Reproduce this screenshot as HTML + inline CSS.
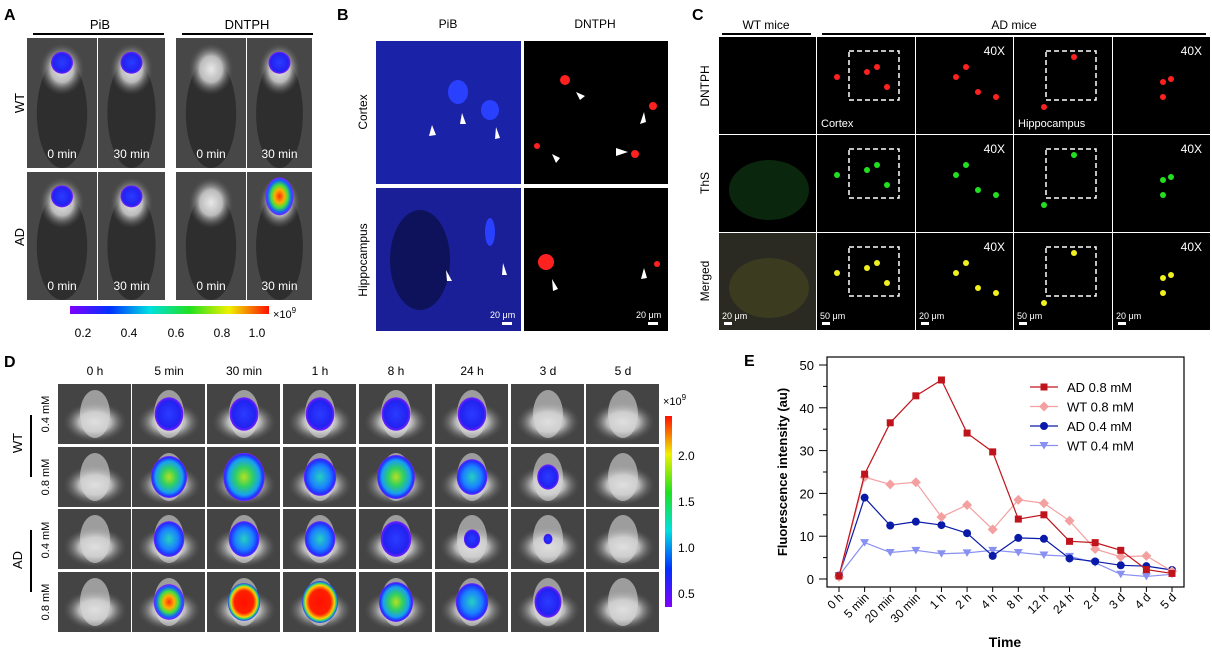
<!DOCTYPE html>
<html><head><meta charset="utf-8">
<style>
html,body{margin:0;padding:0;background:#fff;}
svg{display:block;font-family:"Liberation Sans",Arial,sans-serif;}
</style></head>
<body>
<svg id="fig" width="1212" height="659" viewBox="0 0 1212 659" xmlns="http://www.w3.org/2000/svg">
<defs>
  <radialGradient id="gMouse"><stop offset="0" stop-color="#e8e8e8"/><stop offset="0.5" stop-color="#bbb"/><stop offset="1" stop-color="#555" stop-opacity="0"/></radialGradient>
  <radialGradient id="h1"><stop offset="0" stop-color="#2a3cff"/><stop offset="0.8" stop-color="#2222f0"/><stop offset="1" stop-color="#7a1cff"/></radialGradient>
  <radialGradient id="h2"><stop offset="0" stop-color="#25d0c0"/><stop offset="0.6" stop-color="#1a80ff"/><stop offset="0.9" stop-color="#2030ff"/><stop offset="1" stop-color="#8020ff"/></radialGradient>
  <radialGradient id="h3"><stop offset="0" stop-color="#b8e020"/><stop offset="0.4" stop-color="#30d060"/><stop offset="0.75" stop-color="#18a0f0"/><stop offset="0.92" stop-color="#2030ff"/><stop offset="1" stop-color="#8020ff"/></radialGradient>
  <radialGradient id="h4"><stop offset="0" stop-color="#ff3010"/><stop offset="0.35" stop-color="#ffb000"/><stop offset="0.6" stop-color="#40e040"/><stop offset="0.85" stop-color="#1060ff"/><stop offset="1" stop-color="#8020ff"/></radialGradient>
  <radialGradient id="h5"><stop offset="0" stop-color="#ff1000"/><stop offset="0.6" stop-color="#ff2000"/><stop offset="0.8" stop-color="#ffd000"/><stop offset="0.9" stop-color="#20d080"/><stop offset="1" stop-color="#3030ff"/></radialGradient>
  <linearGradient id="cbA" x1="0" x2="1"><stop offset="0" stop-color="#8000ff"/><stop offset="0.2" stop-color="#0030ff"/><stop offset="0.4" stop-color="#00e0e0"/><stop offset="0.6" stop-color="#20e020"/><stop offset="0.8" stop-color="#f0f000"/><stop offset="1" stop-color="#ff1000"/></linearGradient>
  <linearGradient id="cbD" x1="0" y1="1" x2="0" y2="0"><stop offset="0" stop-color="#8000ff"/><stop offset="0.2" stop-color="#0030ff"/><stop offset="0.4" stop-color="#00e0e0"/><stop offset="0.6" stop-color="#20e020"/><stop offset="0.8" stop-color="#f0f000"/><stop offset="1" stop-color="#ff1000"/></linearGradient>
</defs>

<!-- Panel A -->
<g>
  <text x="4" y="20" font-size="16" font-weight="bold">A</text>
  <text x="100" y="29" font-size="13" text-anchor="middle">PiB</text>
  <rect x="33" y="33" width="131" height="2" fill="#000"/>
  <text x="247" y="29" font-size="13" text-anchor="middle">DNTPH</text>
  <rect x="182" y="33" width="131" height="2" fill="#000"/>
  <text transform="translate(24,103) rotate(-90)" font-size="13" text-anchor="middle">WT</text>
  <text transform="translate(24,237) rotate(-90)" font-size="13" text-anchor="middle">AD</text>
  <g id="aImgs"></g>
  <rect x="70" y="306" width="199" height="8" fill="url(#cbA)"/>
  <text x="273" y="318" font-size="11">×10<tspan font-size="8" dy="-5">9</tspan></text>
  <g font-size="12" text-anchor="middle">
    <text x="83" y="337">0.2</text><text x="129" y="337">0.4</text><text x="176" y="337">0.6</text><text x="222" y="337">0.8</text><text x="257" y="337">1.0</text>
  </g>
</g>

<!-- Panel B -->
<g>
  <text x="337" y="20" font-size="16" font-weight="bold">B</text>
  <text x="448" y="28" font-size="12" text-anchor="middle">PiB</text>
  <text x="595" y="28" font-size="12" text-anchor="middle">DNTPH</text>
  <text transform="translate(367,112) rotate(-90)" font-size="12" text-anchor="middle">Cortex</text>
  <text transform="translate(367,260) rotate(-90)" font-size="12" text-anchor="middle">Hippocampus</text>
  <rect x="376" y="41" width="145" height="143" fill="#1a22a8"/>
  <rect x="376" y="188" width="145" height="143" fill="#1a1f98"/>
  <ellipse cx="420" cy="260" rx="30" ry="50" fill="#070a30" opacity="0.6"/>
  <ellipse cx="458" cy="92" rx="10" ry="12" fill="#2a40ff"/>
  <ellipse cx="490" cy="110" rx="9" ry="10" fill="#2a40ff"/>
  <ellipse cx="490" cy="232" rx="5" ry="14" fill="#2a40ff"/>
  <rect x="524" y="41" width="144" height="143" fill="#000"/>
  <rect x="524" y="188" width="144" height="143" fill="#000"/>
  <g fill="#ff2020"><circle cx="565" cy="80" r="5"/><circle cx="653" cy="106" r="4"/><circle cx="537" cy="146" r="3"/><circle cx="635" cy="154" r="4"/><circle cx="546" cy="262" r="8"/><circle cx="657" cy="264" r="3"/></g>
  <g fill="#fff">
    <polygon points="432,125 429,136 436,135"/><polygon points="462,113 460,124 466,124"/><polygon points="496,127 495,139 500,138"/>
    <polygon points="576,92 580,100 585,96"/><polygon points="644,112 640,124 646,122"/><polygon points="552,154 556,163 560,158"/><polygon points="616,148 628,152 616,156"/>
    <polygon points="446,270 447,281 452,281"/><polygon points="503,263 502,275 507,275"/><polygon points="552,279 553,291 558,289"/><polygon points="644,268 641,279 647,278"/>
  </g>
  <g fill="#fff" font-size="9">
    <text x="490" y="318">20 μm</text><rect x="502" y="322" width="10" height="3"/>
    <text x="636" y="318">20 μm</text><rect x="648" y="322" width="10" height="3"/>
  </g>
</g>

<!-- Panel C -->
<g>
  <text x="692" y="20" font-size="16" font-weight="bold">C</text>
  <text x="766" y="29" font-size="12" text-anchor="middle">WT mice</text>
  <rect x="722" y="33" width="89" height="2" fill="#000"/>
  <text x="1014" y="29" font-size="12" text-anchor="middle">AD mice</text>
  <rect x="822" y="33" width="384" height="2" fill="#000"/>
  <text transform="translate(709,86) rotate(-90)" font-size="12" text-anchor="middle">DNTPH</text>
  <text transform="translate(709,183) rotate(-90)" font-size="12" text-anchor="middle">ThS</text>
  <text transform="translate(709,281) rotate(-90)" font-size="12" text-anchor="middle">Merged</text>
  <g id="cImgs"></g>
</g>

<!-- Panel D -->
<g>
  <text x="4" y="367" font-size="16" font-weight="bold">D</text>
  <g id="dImgs"></g>
  <text transform="translate(22,443) rotate(-90)" font-size="13" text-anchor="middle">WT</text>
  <rect x="30" y="415" width="2" height="62" fill="#000"/>
  <text transform="translate(22,560) rotate(-90)" font-size="13" text-anchor="middle">AD</text>
  <rect x="30" y="530" width="2" height="62" fill="#000"/>
  <g font-size="11" text-anchor="middle">
    <text transform="translate(49,414) rotate(-90)">0.4 mM</text>
    <text transform="translate(49,477) rotate(-90)">0.8 mM</text>
    <text transform="translate(49,540) rotate(-90)">0.4 mM</text>
    <text transform="translate(49,602) rotate(-90)">0.8 mM</text>
  </g>
  <rect x="665" y="416" width="7" height="191" fill="url(#cbD)"/>
  <text x="663" y="405" font-size="11">×10<tspan font-size="8" dy="-5">9</tspan></text>
  <g font-size="12">
    <text x="678" y="460">2.0</text><text x="678" y="506">1.5</text><text x="678" y="552">1.0</text><text x="678" y="598">0.5</text>
  </g>
</g>

<!-- Panel E -->
<g id="chartE">
  <text x="744" y="366" font-size="16" font-weight="bold">E</text>
  <text transform="translate(787,472) rotate(-90)" font-size="13" font-weight="bold" text-anchor="middle">Fluorescence intensity (au)</text>
  <text x="1005" y="647" font-size="14" font-weight="bold" text-anchor="middle">Time</text>
  <rect x="827" y="357" width="357" height="230" fill="none" stroke="#000" stroke-width="1.2"/>
  <g id="eAxes"></g>
  <g id="eSeries"></g>
  <g id="eLegend"></g>
</g>
</svg>

<script>
// ===== Panel E data =====
const timeLabels = ["0 h","5 min","20 min","30 min","1 h","2 h","4 h","8 h","12 h","24 h","2 d","3 d","4 d","5 d"];
const yTicks = [0,10,20,30,40,50];
const ad08 = [0.7,24.5,36.5,42.8,46.5,34.1,29.7,14.0,15.0,8.8,8.5,6.7,2.2,1.3];
const wt08 = [0.5,23.8,22.1,22.6,14.5,17.3,11.6,18.5,17.7,13.6,7.0,5.2,5.4,1.8];
const ad04 = [0.8,19.0,12.5,13.4,12.6,10.7,5.4,9.6,9.4,4.8,4.1,3.2,3.0,2.1];
const wt04 = [0.8,8.5,6.2,6.7,5.9,6.1,6.7,6.2,5.6,5.3,3.8,1.1,0.6,1.1];
const seriesNames = ["AD 0.8 mM","WT 0.8 mM","AD 0.4 mM","WT 0.4 mM"];

const NS = "http://www.w3.org/2000/svg";
function mk(tag, attrs, parent){ const e=document.createElementNS(NS,tag); for(const k in attrs) e.setAttribute(k,attrs[k]); if(parent) parent.appendChild(e); return e; }

const X0=839, X1=1172, Y0=579, Y50=365;
function xScale(i){ return X0 + i*(X1-X0)/(timeLabels.length-1); }
function yScale(v){ return Y0 - (v/50)*(Y0-Y50); }

const axes=document.getElementById('eAxes');
yTicks.forEach(t=>{
  const y=yScale(t);
  const tk=mk('line',{x1:819,x2:827,y1:y,y2:y,stroke:'#000','stroke-width':1},axes);
  
  
  const lb=mk('text',{x:814,y:y+5,'font-size':13,'text-anchor':'end'},axes);
  lb.textContent=t;
  
  
  if(t<50){ const ym=yScale(t+5); mk('line',{x1:823,x2:827,y1:ym,y2:ym,stroke:'#000'},axes); }
});
timeLabels.forEach((l,i)=>{
  const x=xScale(i);
  mk('line',{x1:x,x2:x,y1:587,y2:592,stroke:'#000'},axes);
  const lb=mk('text',{transform:`translate(${x+5},${598}) rotate(-45)`,'font-size':12,'text-anchor':'end'},axes);
  lb.textContent=l;
  
  
});

const seriesData=[ad08,wt08,ad04,wt04];
const colors=["#c0141c","#f4a0a0","#0a1aa8","#8890f0"];
const markers=["square","diamond","circle","tri"];
function marker(g,type,x,y,c){
  if(type==='square') return mk('rect',{x:x-3.5,y:y-3.5,width:7,height:7,fill:c},g);
  if(type==='diamond') return mk('polygon',{points:`${x},${y-5} ${x+5},${y} ${x},${y+5} ${x-5},${y}`,fill:c},g);
  if(type==='circle') return mk('circle',{cx:x,cy:y,r:4,fill:c},g);
  return mk('polygon',{points:`${x-4.5},${y-3.5} ${x+4.5},${y-3.5} ${x},${y+4}`,fill:c},g);
}
const ser=document.getElementById('eSeries');
[3,2,1,0].forEach(s=>{
  const g=mk('g',{},ser);
  
  
  const pts=seriesData[s].map((v,i)=>xScale(i)+','+yScale(v)).join(' ');
  mk('polyline',{points:pts,fill:'none',stroke:colors[s],'stroke-width':1.2},g);
  seriesData[s].forEach((v,i)=>{
    const m=marker(g,markers[s],xScale(i),yScale(v),colors[s]);
    
    
  });
});
const leg=document.getElementById('eLegend');
seriesNames.forEach((n,s)=>{
  const y=387+s*19.5;
  const g=mk('g',{},leg);
  
  
  mk('line',{x1:1030,x2:1058,y1:y,y2:y,stroke:colors[s],'stroke-width':1.2},g);
  marker(g,markers[s],1044,y,colors[s]);
  const t=mk('text',{x:1067,y:y+5,'font-size':13},g); t.textContent=n;
});

// ===== Panel A images =====
const aG=document.getElementById('aImgs');
const aCols=[[27,70],[98,67],[176,70],[247,65]];
const aRows=[[38,130],[172,128]];
const aTimes=["0 min","30 min","0 min","30 min"];
const aHeat=[[1,1,0,1],[1,1,0,4]];
aRows.forEach(([ry,rh],r)=>aCols.forEach(([cx,cw],c)=>{
  const g=mk('g',{},aG);
  
  
  mk('rect',{x:cx,y:ry,width:cw,height:rh,fill:'#474747'},g);
  mk('ellipse',{cx:cx+cw/2,cy:ry+rh*0.58,rx:cw*0.36,ry:rh*0.42,fill:'#2e2e2e'},g);
  mk('ellipse',{cx:cx+cw/2,cy:ry+rh*0.24,rx:cw*0.32,ry:rh*0.2,fill:'url(#gMouse)'},g);
  const h=aHeat[r][c];
  if(h) mk('ellipse',{cx:cx+cw/2,cy:ry+rh*0.19,rx:h>2?14:11,ry:h>2?19:11,fill:`url(#h${h})`},g);
  const t=mk('text',{x:cx+cw/2,y:ry+rh-10,'font-size':12,fill:'#fff','text-anchor':'middle'},g); t.textContent=aTimes[c];
}));

// ===== Panel C images =====
const cG=document.getElementById('cImgs');
const cColX=[719,817,916,1014,1113];
const cRowY=[37,135,233];
const cColor=["#ff2020","#20e020","#f0f020"];
const cSpots=[[],[[20,40],[50,35],[60,30],[70,50]],[[40,40],[80,60],[62,55],[50,30]],[[60,20],[30,70]],[[50,45],[58,42],[50,60]]];
cRowY.forEach((y,r)=>cColX.forEach((x,c)=>{
  const w=(c<4?cColX[c+1]:1211)-x-1;
  const g=mk('g',{},cG);
  
  
  mk('rect',{x:x,y:y,width:w,height:97,fill:c===0&&r===2?'#2a2a22':'#000'},g);
  if(c===0&&r>0) mk('ellipse',{cx:x+50,cy:y+55,rx:40,ry:30,fill:r===1?'#0c3010':'#404020',opacity:0.8},g);
  cSpots[c].forEach(([sx,sy])=>mk('circle',{cx:x+sx,cy:y+sy,r:3,fill:cColor[r]},g));
  if(c===2||c===4){ const t=mk('text',{x:x+w-8,y:y+18,'font-size':12,fill:'#fff','text-anchor':'end'},g); t.textContent='40X'; }
  if(c===1||c===3) mk('rect',{x:x+32,y:y+14,width:50,height:49,fill:'none',stroke:'#fff','stroke-width':1.5,'stroke-dasharray':'5,3'},g);
  if(r===0&&c===1){ const t=mk('text',{x:x+4,y:y+90,'font-size':11,fill:'#fff'},g); t.textContent='Cortex'; }
  if(r===0&&c===3){ const t=mk('text',{x:x+4,y:y+90,'font-size':11,fill:'#fff'},g); t.textContent='Hippocampus'; }
  if(r===2){ const t=mk('text',{x:x+3,y:y+86,'font-size':9,fill:'#fff'},g); t.textContent=(c===1||c===3)?'50 μm':'20 μm'; mk('rect',{x:x+5,y:y+89,width:8,height:3,fill:'#fff'},g); }
}));

// ===== Panel D images =====
const dG=document.getElementById('dImgs');
const dColX=[58,132,207,283,359,435,511,586];
const dRowY=[384,447,509,572];
const dTimes=["0 h","5 min","30 min","1 h","8 h","24 h","3 d","5 d"];
const dHeat=[[0,1,1,1,1,1,0,0],[0,3,3,2,3,2,1,0],[0,2,2,2,1,1,1,0],[0,4,5,5,3,2,1,0]];
const dSize=[[0,.8,.8,.8,.8,.8,0,0],[0,1,1.15,.9,1.05,.85,.6,0],[0,.85,.85,.85,.85,.45,.25,0],[0,.85,.9,1,.95,.9,.75,0]];
dColX.forEach((x,c)=>{
  const t=mk('text',{x:x+37,y:375,'font-size':12,'text-anchor':'middle'},dG);
  t.textContent=dTimes[c];
  
  
});
dRowY.forEach((y,r)=>dColX.forEach((x,c)=>{
  const g=mk('g',{},dG);
  
  
  mk('rect',{x:x,y:y,width:73,height:60,fill:'#444'},g);
  mk('ellipse',{cx:x+37,cy:y+38,rx:32,ry:20,fill:'url(#gMouse)'},g);
  mk('ellipse',{cx:x+37,cy:y+30,rx:15,ry:24,fill:'#d8d8d8',opacity:0.6},g);
  const h=dHeat[r][c], s=dSize[r][c];
  if(h) mk('ellipse',{cx:x+37,cy:y+30,rx:18*s,ry:21*s,fill:`url(#h${h})`},g);
}));
</script>
</body></html>
